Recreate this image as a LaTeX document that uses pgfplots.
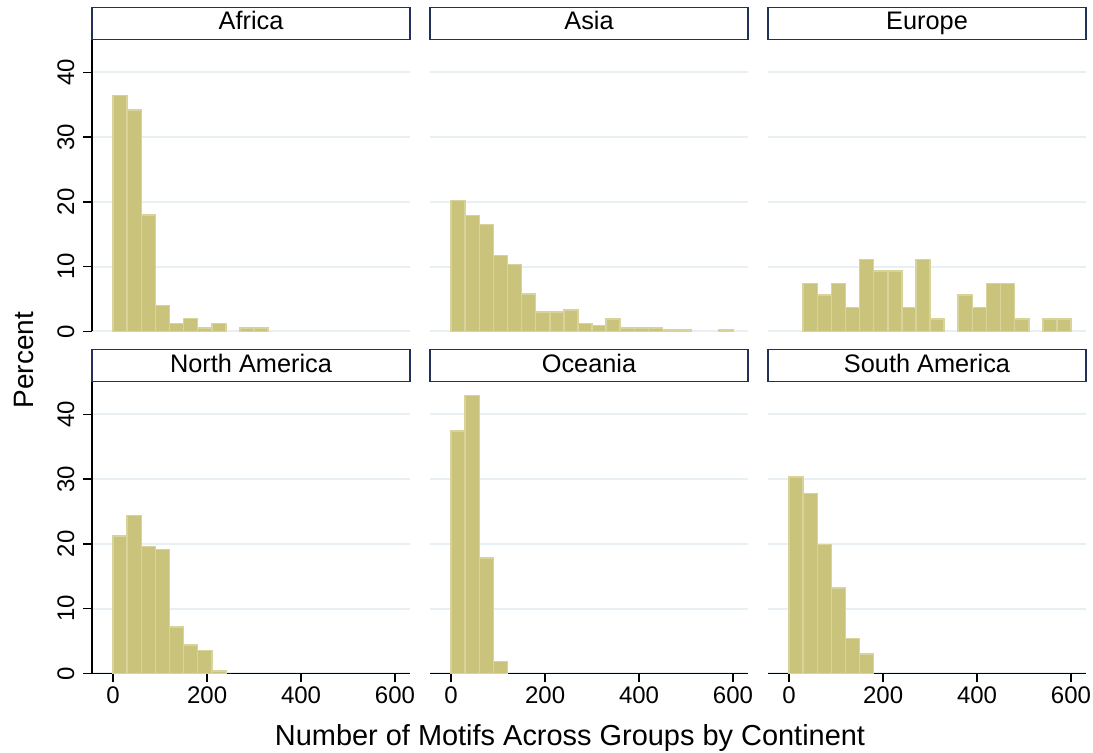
\documentclass[border=0pt]{standalone}
\usepackage{pgfplots}
\pgfplotsset{compat=1.18}
\usepackage{fontspec}
\setmainfont{Liberation Sans}

\definecolor{barfill}{RGB}{201,195,124}
\definecolor{baredge}{RGB}{216,210,155}
\definecolor{gridc}{RGB}{232,240,243}
\definecolor{headc}{RGB}{36,48,92}

\pgfplotsset{
  panel/.style={
    scale only axis,
    width=238.5pt, height=218.5pt,
    xmin=-45, xmax=632, ymin=0, ymax=45,
    axis lines*=left,
    axis line style={black, line width=1.1pt},
    tick align=outside,
    major tick length=6.75pt,
    tick style={black, line width=1.1pt},
    xtick={0,200,400,600},
    ytick={0,10,20,30,40},
    ymajorgrids,
    grid style={gridc, line width=1.5pt},
    /pgf/number format/assume math mode=true,
    tick label style={font=\fontsize{18}{21}\selectfont},
    yticklabel style={rotate=90, anchor=south},
    yticklabel shift=3pt,
    every axis title shift=0pt,
    title style={at={(0.5,1)}, anchor=south, draw=headc, line width=1pt,
      minimum width=238.5pt, minimum height=24pt, inner sep=0pt,
      text height=13.5pt, text depth=3.5pt,
      font=\fontsize{19}{22}\selectfont},
    clip=false,
  },
  noy/.style={y axis line style={draw=none}, yticklabels={}, ytick style={draw=none}},
  nox/.style={x axis line style={draw=none}, xticklabels={}, xtick style={draw=none}},
  hbar/.style={ybar, bar width=30, bar shift=0pt, fill=barfill, draw=baredge, line width=1.2pt},
}

\begin{document}
\begin{tikzpicture}
\path[use as bounding box] (0,0) rectangle (819.75pt,-564.75pt);

% Africa
\begin{axis}[panel, nox, at={(69pt,-30pt)}, anchor=north west, title={Africa}]
\addplot[hbar] coordinates {
  (15,36.4) (45,34.2) (75,18.0) (105,4.0) (135,1.2) (165,2.0)
  (195,0.5) (225,1.2) (285,0.5) (315,0.5)
};
\end{axis}

% Asia
\begin{axis}[panel, nox, noy, at={(322.5pt,-30pt)}, anchor=north west, title={Asia}]
\addplot[hbar] coordinates {
  (15,20.2) (45,17.9) (75,16.5) (105,11.7) (135,10.3) (165,5.8)
  (195,3.0) (225,3.0) (255,3.3) (285,1.2) (315,0.9) (345,1.9)
  (375,0.5) (405,0.5) (435,0.5) (465,0.2) (495,0.2) (585,0.2)
};
\end{axis}

% Europe
\begin{axis}[panel, nox, noy, at={(576pt,-30pt)}, anchor=north west, title={Europe}]
\addplot[hbar] coordinates {
  (45,7.4) (75,5.6) (105,7.4) (135,3.7) (165,11.1) (195,9.3)
  (225,9.3) (255,3.7) (285,11.1) (315,1.9) (375,5.6) (405,3.7)
  (435,7.4) (465,7.4) (495,1.9) (555,1.9) (585,1.9)
};
\end{axis}

% North America
\begin{axis}[panel, at={(69pt,-286.5pt)}, anchor=north west, title={North America}]
\addplot[hbar] coordinates {
  (15,21.2) (45,24.4) (75,19.6) (105,19.1) (135,7.2) (165,4.4)
  (195,3.5) (225,0.4)
};
\end{axis}

% Oceania
\begin{axis}[panel, noy, at={(322.5pt,-286.5pt)}, anchor=north west, title={Oceania}]
\addplot[hbar] coordinates {
  (15,37.4) (45,42.9) (75,17.8) (105,1.8)
};
\end{axis}

% South America
\begin{axis}[panel, noy, at={(576pt,-286.5pt)}, anchor=north west, title={South America}]
\addplot[hbar] coordinates {
  (15,30.3) (45,27.8) (75,19.9) (105,13.2) (135,5.4) (165,3.0)
};
\end{axis}

\node[rotate=90, font=\fontsize{21}{24}\selectfont] at (18pt,-270pt) {Percent};
\node[font=\fontsize{21.7}{25}\selectfont] at (427.5pt,-553.5pt) {Number of Motifs Across Groups by Continent};
\end{tikzpicture}
\end{document}
